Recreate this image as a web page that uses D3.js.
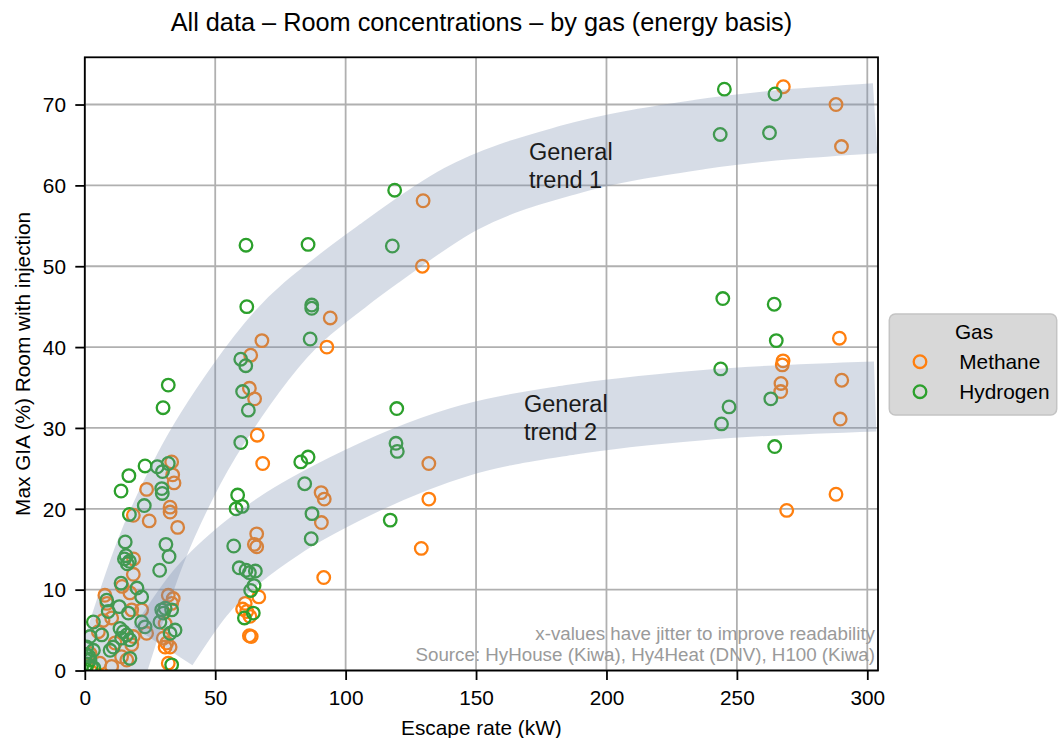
<!DOCTYPE html>
<html>
<head>
<meta charset="utf-8">
<script src="https://cdn.jsdelivr.net/npm/d3@7"></script>
<style>
  body { margin: 0; background: #fff; }
  svg { display: block; }
  text { font-family: "Liberation Sans", Arial, Helvetica, sans-serif; }
</style>
</head>
<body>
<svg id="chart" width="1058" height="738"></svg>
<script>
// ---- data -------------------------------------------------------------
const xTicks = [0, 50, 100, 150, 200, 250, 300];
const yTicks = [0, 10, 20, 30, 40, 50, 60, 70];

// [escape rate kW (jittered), max GIA %]
const methane = [
  [267.8,72.2],[288.0,70.0],[290.1,64.8],[289.3,41.1],[267.7,38.3],[267.4,37.8],
  [290.2,35.9],[266.9,35.5],[266.8,34.5],[289.6,31.1],[288.0,21.8],[269.1,19.8],
  [129.7,58.1],[129.4,50.0],[94.1,43.6],[92.8,40.0],[131.9,25.6],[90.6,22.0],
  [91.8,21.2],[131.9,21.2],[90.7,18.3],[129.0,15.1],[91.6,11.5],
  [67.9,40.8],[63.6,39.0],[63.1,34.9],[65.1,33.6],[66.1,29.1],[68.2,25.6],
  [65.9,16.9],[65.0,15.6],[65.9,15.3],[66.7,9.1],[61.5,8.3],[60.5,7.6],
  [62.1,7.3],[63.3,6.7],[63.1,4.3],[63.8,4.2],
  [33.3,25.8],[33.7,24.2],[34.2,23.2],[23.7,22.4],[18.6,19.2],[32.7,20.2],
  [32.7,19.6],[24.7,18.5],[35.6,17.7],[18.7,13.8],[18.6,11.9],[14.3,10.4],
  [17.3,9.6],[32.0,9.3],[33.9,8.9],[33.3,8.3],[21.8,7.5],[30.8,5.8],
  [23.7,4.6],[30.1,4.0],[31.4,3.4],[32.7,2.9],[30.8,2.9],[32.0,0.9],
  [7.7,9.3],[8.5,8.3],[18.0,7.5],[10.3,6.5],[7.0,6.2],[5.2,4.8],[18.6,4.2],
  [18.0,3.2],[11.6,3.4],[2.0,2.1],[0.7,0.5],[5.8,0.9],[10.3,0.5],
  [16.1,1.3],[14.1,1.7]
];

const hydrogen = [
  [245.2,71.9],[264.6,71.3],[243.6,66.3],[262.5,66.5],[244.6,46.0],[264.3,45.3],
  [265.1,40.8],[243.8,37.3],[263.0,33.6],[247.0,32.6],[244.1,30.5],[264.5,27.7],
  [118.8,59.4],[117.9,52.5],[85.6,52.7],[87.0,45.2],[87.0,44.8],[86.4,41.0],
  [119.6,32.4],[119.3,28.1],[119.8,27.1],[85.6,26.4],[82.8,25.8],[84.3,23.1],
  [87.1,19.4],[117.1,18.6],[86.8,16.3],
  [61.8,52.6],[62.1,45.0],[59.8,38.5],[61.7,37.7],[60.5,34.5],[62.7,32.2],
  [59.8,28.2],[58.6,21.7],[58.0,20.0],[60.3,20.3],[57.1,15.4],[59.2,12.7],
  [61.8,12.4],[63.1,12.1],[65.4,12.3],[64.9,10.5],[63.6,9.9],[64.6,7.1],[61.2,6.5],
  [32.0,35.3],[30.0,32.5],[23.1,25.3],[27.8,25.2],[32.0,25.6],[16.9,24.1],
  [29.8,24.6],[13.9,22.2],[29.5,22.5],[29.7,21.9],[22.8,20.4],[17.1,19.3],
  [15.5,15.9],[31.1,15.6],[32.3,14.1],[15.8,14.2],[15.2,13.8],[17.1,13.5],
  [16.3,13.2],[28.7,12.4],[13.9,10.8],[20.0,10.2],[21.8,9.1],[29.5,7.5],
  [30.8,7.7],[33.3,7.5],[30.1,7.1],[28.8,6.0],[34.6,5.0],[32.7,4.6],[33.3,0.7],
  [21.8,6.0],[23.1,5.4],[8.4,8.7],[13.2,7.9],[9.0,7.3],[16.7,7.1],[3.3,6.0],
  [6.5,4.4],[13.5,5.2],[14.8,4.8],[16.1,4.4],[17.3,3.8],[14.1,4.0],[10.9,2.9],
  [9.7,2.5],[2.0,4.2],[0.7,2.9],[3.3,2.5],[2.0,1.3],[17.3,1.5],[1.0,0.8],
  [3.5,0.3],[0.5,2.0],[1.5,1.8],[0.3,0.2],[2.5,0.5]
];

// hand-drawn trend bands (centre lines)
const trend1 = [[10,0],[25,14.5],[40,25],[60,35.3],[75,41.5],[100,48.5],[113,51.6],
                [144,58.3],[186,63.2],[236,66.3],[303,68.3]];
const trend2 = [[30,3],[44,9.5],[60,14.5],[75,18],[100,22.5],[144,28.3],
                [186,31],[236,32.8],[303,33.9]];

const series = [
  { name: "Methane",  color: "#ff7f0e", points: methane },
  { name: "Hydrogen", color: "#2ca02c", points: hydrogen }
];

// ---- layout -----------------------------------------------------------
const svg = d3.select("#chart");
const L = 84.8, R = 878, T = 57.3, B = 670.5;
const x = d3.scaleLinear().domain([0, 304.1]).range([L, R]);
const y = d3.scaleLinear().domain([0, 75.84]).range([B, T]);
const markerR = 6.3, markerW = 2.3;

svg.append("rect").attr("width", 1058).attr("height", 738).attr("fill", "#fff");

svg.append("clipPath").attr("id", "plotClip")
  .append("rect").attr("x", L).attr("y", T).attr("width", R - L).attr("height", B - T);

// grid
const grid = svg.append("g").attr("stroke", "#b0b0b0").attr("stroke-width", 1.8);
grid.selectAll("line.v").data(xTicks).join("line")
  .attr("x1", d => x(d)).attr("x2", d => x(d)).attr("y1", T).attr("y2", B);
grid.selectAll("line.h").data(yTicks).join("line")
  .attr("y1", d => y(d)).attr("y2", d => y(d)).attr("x1", L).attr("x2", R);

// scatter
const plot = svg.append("g").attr("clip-path", "url(#plotClip)");
series.forEach(s => {
  plot.append("g").selectAll("circle").data(s.points).join("circle")
    .attr("cx", d => x(d[0])).attr("cy", d => y(d[1])).attr("r", markerR)
    .attr("fill", "none").attr("stroke", s.color).attr("stroke-width", markerW);
});

// trend bands
const bandLine = d3.line().x(d => x(d[0])).y(d => y(d[1])).curve(d3.curveMonotoneX);
[trend1, trend2].forEach(t => {
  plot.append("path").attr("d", bandLine(t))
    .attr("fill", "none").attr("stroke", "#768aac").attr("stroke-opacity", 0.3)
    .attr("stroke-width", 70).attr("stroke-linecap", "butt");
});

// axes
const xAxis = svg.append("g").attr("transform", `translate(0,${B})`)
  .call(d3.axisBottom(x).tickValues(xTicks).tickSize(9.5).tickPadding(10).tickFormat(d3.format("d")));
const yAxis = svg.append("g").attr("transform", `translate(${L},0)`)
  .call(d3.axisLeft(y).tickValues(yTicks).tickSize(9.5).tickPadding(9.3).tickFormat(d3.format("d")));
[xAxis, yAxis].forEach(a => {
  a.select(".domain").remove();
  a.selectAll(".tick line").attr("stroke", "#000").attr("stroke-width", 1.8);
  a.selectAll(".tick text").attr("fill", "#000").style("font-size", "20.8px")
    .style("font-family", '"Liberation Sans", Arial, sans-serif');
});
yAxis.selectAll(".tick text").attr("dy", "0.35em");

// frame
svg.append("rect").attr("x", L).attr("y", T).attr("width", R - L).attr("height", B - T)
  .attr("fill", "none").attr("stroke", "#000").attr("stroke-width", 1.8);

// axis labels & title
svg.append("text").attr("x", (L + R) / 2).attr("y", 735).attr("text-anchor", "middle")
  .style("font-size", "20.8px").text("Escape rate (kW)");
svg.append("text").attr("transform", `translate(30,${(T + B) / 2}) rotate(-90)`)
  .attr("text-anchor", "middle").style("font-size", "20.8px")
  .text("Max GIA (%) Room with injection");
svg.append("text").attr("x", (L + R) / 2).attr("y", 31).attr("text-anchor", "middle")
  .style("font-size", "25.3px").text("All data – Room concentrations – by gas (energy basis)");

// trend labels
const trendLabels = [
  { x: 529, y: 160, lines: ["General", "trend 1"] },
  { x: 524, y: 412, lines: ["General", "trend 2"] }
];
trendLabels.forEach(t => {
  const txt = svg.append("text").attr("x", t.x).attr("y", t.y).style("font-size", "23.5px").attr("fill", "#1a1a1a");
  t.lines.forEach((l, i) => txt.append("tspan").attr("x", t.x).attr("dy", i ? 27.5 : 0).text(l));
});

// footnote
const notes = ["x-values have jitter to improve readability", "Source: HyHouse (Kiwa), Hy4Heat (DNV), H100 (Kiwa)"];
notes.forEach((n, i) => {
  svg.append("text").attr("x", 875).attr("y", 639.5 + i * 21).attr("text-anchor", "end")
    .attr("fill", "#9a9a9a").style("font-size", "18.75px").text(n);
});

// legend
const lg = svg.append("g");
lg.append("rect").attr("x", 889.3).attr("y", 314).attr("width", 167.4).attr("height", 101)
  .attr("rx", 6).attr("fill", "#d8d8d8").attr("stroke", "#c4c4c4").attr("stroke-width", 1.5);
lg.append("text").attr("x", 974).attr("y", 338.5).attr("text-anchor", "middle")
  .style("font-size", "20.8px").text("Gas");
series.forEach((s, i) => {
  const cy = 361.7 + i * 30;
  lg.append("circle").attr("cx", 920).attr("cy", cy).attr("r", markerR)
    .attr("fill", "none").attr("stroke", s.color).attr("stroke-width", markerW);
  lg.append("text").attr("x", 959.3).attr("y", cy + 7.5).style("font-size", "20.8px").text(s.name);
});
</script>
</body>
</html>
